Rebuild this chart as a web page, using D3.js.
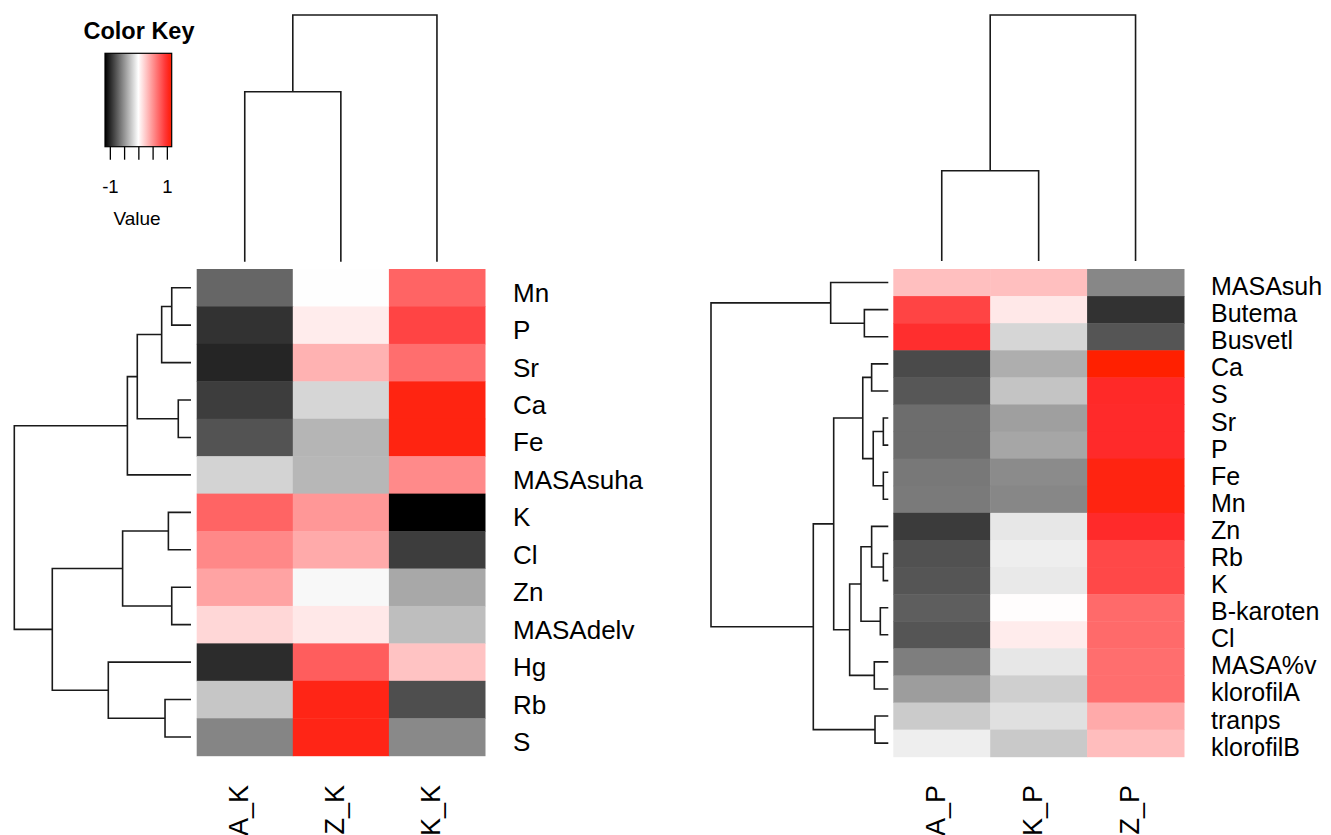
<!DOCTYPE html>
<html>
<head>
<meta charset="utf-8">
<script src="https://cdn.jsdelivr.net/npm/d3@7"></script>
<style>
  html, body { margin: 0; padding: 0; background: #fff; }
  svg { display: block; font-family: "Liberation Sans", Arial, sans-serif; }
</style>
</head>
<body>
<svg id="chart" width="1331" height="835"></svg>
<script>
// ---------- DATA ----------
const leftRows = ["Mn", "P", "Sr", "Ca", "Fe", "MASAsuha", "K", "Cl", "Zn", "MASAdelv", "Hg", "Rb", "S"];
const leftCols = ["A_K", "Z_K", "K_K"];
const leftValues = [
  [-0.70, -0.005, 0.73],
  [-0.94, 0.09, 0.88],
  [-1.00, 0.36, 0.68],
  [-0.89, -0.19, 1.10],
  [-0.79, -0.34, 1.10],
  [-0.20, -0.33, 0.55],
  [0.73, 0.49, -1.17],
  [0.56, 0.40, -0.89],
  [0.43, -0.03, -0.40],
  [0.19, 0.11, -0.30],
  [-0.97, 0.76, 0.28],
  [-0.26, 1.08, -0.81],
  [-0.56, 1.08, -0.54]
];
const rightRows = ["MASAsuh", "Butema", "Busvetl", "Ca", "S", "Sr", "P", "Fe", "Mn", "Zn", "Rb", "K",
  "B-karoten", "Cl", "MASA%v", "klorofilA", "tranps", "klorofilB"];
const rightCols = ["A_P", "K_P", "Z_P"];
const rightValues = [
  [0.30, 0.30, -0.55],
  [0.88, 0.11, -0.94],
  [0.98, -0.19, -0.78],
  [-0.83, -0.37, 1.17],
  [-0.77, -0.27, 1.01],
  [-0.67, -0.44, 1.00],
  [-0.67, -0.41, 1.00],
  [-0.62, -0.53, 1.10],
  [-0.61, -0.55, 1.10],
  [-0.90, -0.11, 1.00],
  [-0.80, -0.08, 0.86],
  [-0.78, -0.10, 0.86],
  [-0.74, 0.01, 0.70],
  [-0.78, 0.09, 0.70],
  [-0.59, -0.11, 0.68],
  [-0.45, -0.22, 0.68],
  [-0.24, -0.14, 0.40],
  [-0.08, -0.25, 0.31]
];
// dendrograms: internal nodes {h: height (relative to root), c: [children]}, leaves are names
const leftRowTree = {h: 1.0, c: [
  {h: 0.360, c: [
    {h: 0.304, c: [
      {h: 0.166, c: [{h: 0.109, c: ["Mn", "P"]}, "Sr"]},
      {h: 0.072, c: ["Ca", "Fe"]}
    ]},
    "MASAsuha"
  ]},
  {h: 0.785, c: [
    {h: 0.387, c: [{h: 0.128, c: ["K", "Cl"]}, {h: 0.109, c: ["Zn", "MASAdelv"]}]},
    {h: 0.468, c: ["Hg", {h: 0.147, c: ["Rb", "S"]}]}
  ]}
]};
const rightRowTree = {h: 1.0, c: [
  {h: 0.325, c: ["MASAsuh", {h: 0.135, c: ["Butema", "Busvetl"]}]},
  {h: 0.423, c: [
    {h: 0.308, c: [
      {h: 0.144, c: [
        {h: 0.094, c: ["Ca", "S"]},
        {h: 0.085, c: [{h: 0.028, c: ["Sr", "P"]}, {h: 0.028, c: ["Fe", "Mn"]}]}
      ]},
      {h: 0.218, c: [
        {h: 0.154, c: [
          {h: 0.094, c: ["Zn", {h: 0.028, c: ["Rb", "K"]}]},
          {h: 0.045, c: ["B-karoten", "Cl"]}
        ]},
        {h: 0.079, c: ["MASA%v", "klorofilA"]}
      ]}
    ]},
    {h: 0.075, c: ["tranps", "klorofilB"]}
  ]}
]};
const leftColTree = {h: 1.0, c: [{h: 0.689, c: ["A_K", "Z_K"]}, "K_K"]};
const rightColTree = {h: 1.0, c: [{h: 0.367, c: ["A_P", "K_P"]}, "Z_P"]};
const keyTicks = [-1, -0.5, 0, 0.5, 1];
const keyLabels = {"-1": "-1", "1": "1"};

// ---------- SCALES / HELPERS ----------
const svg = d3.select("#chart");
svg.append("rect").attr("width", 1331).attr("height", 835).attr("fill", "#fff");

const color = d3.scaleLinear()
  .domain([-1.17, 0, 1.0, 1.17])
  .range(["#000000", "#ffffff", "#ff2a2a", "#ff2000"])
  .clamp(true);

const LINE = "#1a1a1a";

function toHier(tree) {
  return d3.hierarchy(tree, d => (typeof d === "string") ? null : d.c);
}

// row dendrogram (horizontal, root on the left)
function drawRowDendro(g, tree, yBand, hScale) {
  const root = toHier(tree);
  root.eachAfter(n => {
    if (!n.children) {
      n.py = yBand(n.data) + yBand.bandwidth() / 2;
      n.px = hScale(0);
    } else {
      n.py = (n.children[0].py + n.children[1].py) / 2;
      n.px = hScale(n.data.h);
    }
  });
  root.each(n => {
    if (!n.children) return;
    const [a, b] = n.children;
    g.append("path")
      .attr("d", `M${a.px},${a.py}H${n.px}V${b.py}H${b.px}`)
      .attr("fill", "none").attr("stroke", LINE).attr("stroke-width", 1.6);
  });
}

// column dendrogram (vertical, root at the top)
function drawColDendro(g, tree, xBand, hScale) {
  const root = toHier(tree);
  root.eachAfter(n => {
    if (!n.children) {
      n.px = xBand(n.data) + xBand.bandwidth() / 2;
      n.py = hScale(0);
    } else {
      n.px = (n.children[0].px + n.children[1].px) / 2;
      n.py = hScale(n.data.h);
    }
  });
  root.each(n => {
    if (!n.children) return;
    const [a, b] = n.children;
    g.append("path")
      .attr("d", `M${a.px},${a.py}V${n.py}H${b.px}V${b.py}`)
      .attr("fill", "none").attr("stroke", LINE).attr("stroke-width", 1.6);
  });
}

function drawPanel(cfg) {
  const g = svg.append("g");
  const x = d3.scaleBand().domain(cfg.cols).range(cfg.xr);
  const y = d3.scaleBand().domain(cfg.rows).range(cfg.yr);
  const cells = [];
  cfg.values.forEach((row, i) => row.forEach((v, j) => cells.push({r: cfg.rows[i], c: cfg.cols[j], v})));
  g.selectAll("rect.cell").data(cells).join("rect")
    .attr("class", "cell")
    .attr("x", d => x(d.c)).attr("y", d => y(d.r))
    .attr("width", x.bandwidth() + 0.5).attr("height", y.bandwidth() + 0.5)
    .attr("fill", d => color(d.v));

  // row labels
  g.selectAll("text.rl").data(cfg.rows).join("text")
    .attr("class", "rl")
    .attr("x", cfg.xr[1] + cfg.labelGap)
    .attr("y", d => y(d) + y.bandwidth() / 2 + cfg.rowBaseline)
    .attr("font-size", cfg.rowFont)
    .attr("fill", "#000")
    .text(d => d);

  // column labels (rotated)
  g.selectAll("text.cl").data(cfg.cols).join("text")
    .attr("class", "cl")
    .attr("transform", d => `translate(${x(d) + x.bandwidth() / 2 + 3},${cfg.colLabelTop}) rotate(-90)`)
    .attr("text-anchor", "end")
    .attr("font-size", cfg.colFont)
    .attr("fill", "#000")
    .text(d => d);

  drawRowDendro(g, cfg.rowTree, y, d3.scaleLinear().domain([0, 1]).range(cfg.rowDendroX));
  drawColDendro(g, cfg.colTree, x, d3.scaleLinear().domain([0, 1]).range(cfg.colDendroY));
}

drawPanel({
  rows: leftRows, cols: leftCols, values: leftValues,
  xr: [196.7, 485], yr: [269, 755.7],
  labelGap: 28, rowBaseline: 14, rowFont: 26,
  colLabelTop: 785, colFont: 27,
  rowTree: leftRowTree, rowDendroX: [191, 14.3],
  colTree: leftColTree, colDendroY: [261.7, 15]
});

drawPanel({
  rows: rightRows, cols: rightCols, values: rightValues,
  xr: [893.3, 1184], yr: [269, 756.7],
  labelGap: 27, rowBaseline: 12.5, rowFont: 25,
  colLabelTop: 785, colFont: 27,
  rowTree: rightRowTree, rowDendroX: [888.3, 711],
  colTree: rightColTree, colDendroY: [261, 15]
});

// ---------- COLOR KEY ----------
const key = svg.append("g");
const keyX = d3.scaleLinear().domain([-1.17, 1.17]).range([105, 171.7]);
const grad = svg.append("defs").append("linearGradient").attr("id", "keygrad")
  .attr("x1", "0%").attr("x2", "100%").attr("y1", "0%").attr("y2", "0%");
d3.range(0, 1.0001, 0.05).forEach(t => {
  const v = keyX.invert(105 + t * (171.7 - 105));
  grad.append("stop").attr("offset", (t * 100) + "%").attr("stop-color", color(v));
});
key.append("rect").attr("x", 105).attr("y", 53.3).attr("width", 66.7).attr("height", 93.4)
  .attr("fill", "url(#keygrad)").attr("stroke", "#000").attr("stroke-width", 1.2);

const keyAxis = d3.axisBottom(keyX).tickValues(keyTicks).tickSize(13).tickPadding(20)
  .tickFormat(d => keyLabels[String(d)] || "");
const ka = key.append("g").attr("transform", "translate(0,146.7)").call(keyAxis);
ka.select(".domain").remove();
ka.selectAll(".tick line").attr("stroke", "#000").attr("stroke-width", 1.3);
ka.selectAll(".tick text").attr("font-size", 18.5).attr("fill", "#000")
  .attr("font-family", "Liberation Sans, Arial, sans-serif");

key.append("text").attr("x", 139).attr("y", 38.5).attr("text-anchor", "middle")
  .attr("font-size", 23.5).attr("font-weight", "bold").attr("fill", "#000").text("Color Key");
key.append("text").attr("x", 137).attr("y", 225).attr("text-anchor", "middle")
  .attr("font-size", 19).attr("fill", "#000").text("Value");
</script>
</body>
</html>
